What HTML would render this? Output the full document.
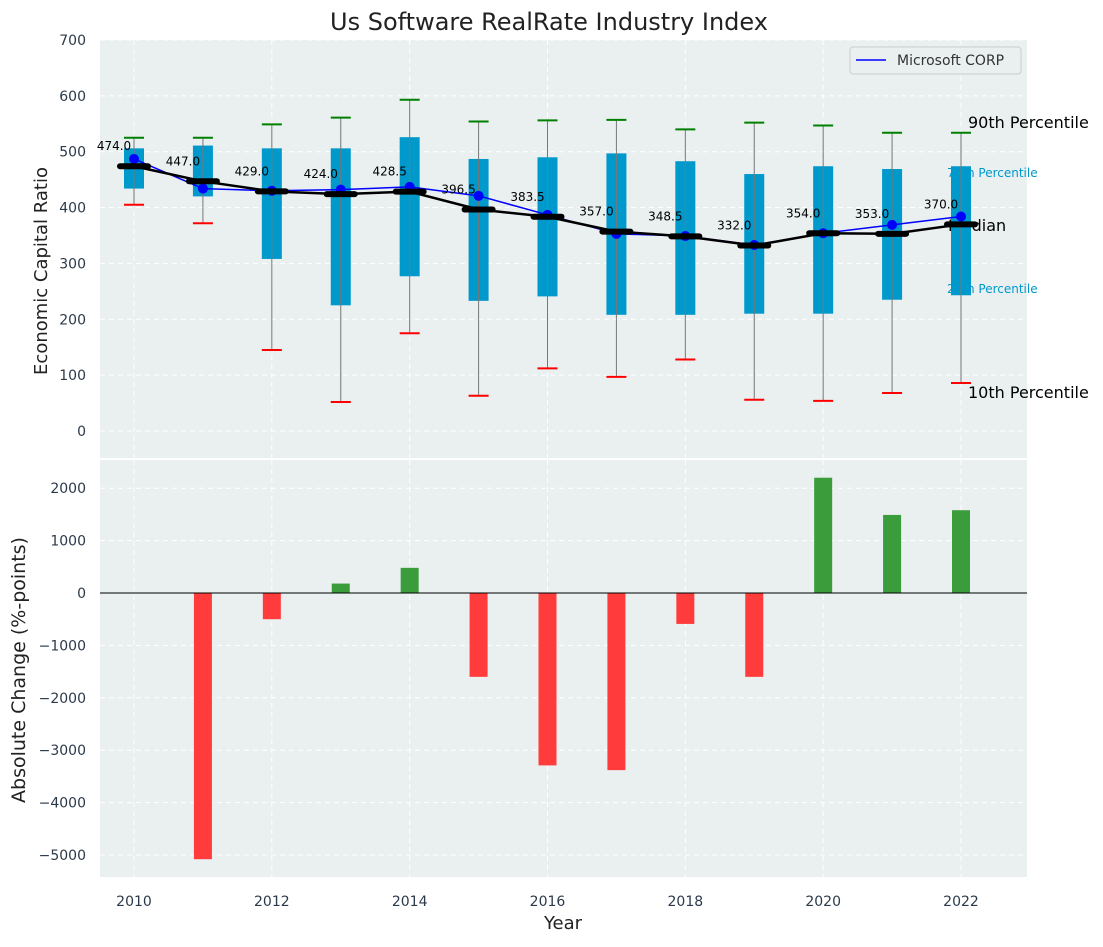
<!DOCTYPE html>
<html><head><meta charset="utf-8"><style>
body{margin:0;background:#fff;font-family:"Liberation Sans","DejaVu Sans",sans-serif}
svg text{font-family:"DejaVu Sans","Liberation Sans",sans-serif}
</style></head><body>
<svg id="c" width="1103" height="942" xmlns="http://www.w3.org/2000/svg"></svg>
<script>
const years=[2010,2011,2012,2013,2014,2015,2016,2017,2018,2019,2020,2021,2022];
const p90=[525,525,549,561,593,554,556,557,540,552,547,534,534];
const p75=[506,511,506,506,526,487,490,497,483,460,474,469,474];
const p25=[434,420,308,225,277,233,241,208,208,210,210,235,243];
const p10=[405,372,145,52,175,63,112,97,128,56,54,68,86];
const medians=[474,447,429,424,428.5,396.5,383.5,357,348.5,332,354,353,370];
const msft=[487,434,430,432,437,421,387,353,349,333,354,369,384];
const changes=[null,-5080,-500,180,480,-1600,-3290,-3380,-590,-1600,2200,1490,1580];
const yTicks1=[0,100,200,300,400,500,600,700];
const yTicks2=[-5000,-4000,-3000,-2000,-1000,0,1000,2000];
const xTicks=[2010,2012,2014,2016,2018,2020,2022];

const svg=document.getElementById('c');const NS='http://www.w3.org/2000/svg';
function el(t,a,txt){const e=document.createElementNS(NS,t);for(const k in a)e.setAttribute(k,a[k]);if(txt!==undefined)e.textContent=txt;svg.appendChild(e);return e;}
const L=100,R=1027;
const x=v=>134+(v-2010)*(961-134)/12;
const y1=v=>431-v*0.5586;
const y2=v=>593-v*0.0524;

let e=el('rect',{x:L,y:40,width:R-L,height:418,fill:'#eaeff0'});

e=el('rect',{x:L,y:460,width:R-L,height:417,fill:'#eaeff0'});


xTicks.forEach(t=>{
 el('line',{x1:x(t),x2:x(t),y1:40,y2:458,stroke:'#fff','stroke-dasharray':'5,4','stroke-width':1});
 el('line',{x1:x(t),x2:x(t),y1:460,y2:877,stroke:'#fff','stroke-dasharray':'5,4','stroke-width':1});
 e=el('text',{x:x(t),y:906,'text-anchor':'middle','font-size':14,fill:'#2b3a4a'},t);
 
});
yTicks1.forEach(t=>{
 el('line',{x1:L,x2:R,y1:y1(t),y2:y1(t),stroke:'#fff','stroke-dasharray':'5,4'});
 e=el('text',{x:86,y:y1(t)+5,'text-anchor':'end','font-size':14,fill:'#2b3a4a'},t);
 
});
yTicks2.forEach(t=>{
 el('line',{x1:L,x2:R,y1:y2(t),y2:y2(t),stroke:'#fff','stroke-dasharray':'5,4'});
 e=el('text',{x:86,y:y2(t)+5,'text-anchor':'end','font-size':14,fill:'#2b3a4a'},t<0?'\u2212'+(-t):t);
 
});

[['90th Percentile',128,16,'#000',968],['75th Percentile',177,12,'#0099cc',947],['Median',231,16,'#000',948],['25th Percentile',293,12,'#0099cc',947],['10th Percentile',398,16,'#000',968]].forEach(a=>{
 e=el('text',{x:a[4],y:a[1],'font-size':a[2],fill:a[3]},a[0]);
 
});

years.forEach((yr,i)=>{
 const cx=x(yr);
 e=el('rect',{x:cx-10,y:y1(p75[i]),width:20,height:y1(p25[i])-y1(p75[i]),fill:'#0099cc'});
 
 el('line',{x1:cx,x2:cx,y1:y1(p90[i]),y2:y1(p10[i]),stroke:'#777','stroke-width':1});
 e=el('line',{x1:cx-10,x2:cx+10,y1:y1(p90[i]),y2:y1(p90[i]),stroke:'green','stroke-width':2});
 
 e=el('line',{x1:cx-10,x2:cx+10,y1:y1(p10[i]),y2:y1(p10[i]),stroke:'red','stroke-width':2});
 
});
e=el('polyline',{points:years.map((yr,i)=>x(yr)+','+y1(msft[i])).join(' '),fill:'none',stroke:'blue','stroke-width':1.5});

years.forEach((yr,i)=>{e=el('circle',{cx:x(yr),cy:y1(msft[i]),r:5,fill:'blue'});
 });
e=el('polyline',{points:years.map((yr,i)=>x(yr)+','+y1(medians[i])).join(' '),fill:'none',stroke:'#000','stroke-width':2.5});

years.forEach((yr,i)=>{
 e=el('line',{x1:x(yr)-14,x2:x(yr)+14,y1:y1(medians[i]),y2:y1(medians[i]),stroke:'#000','stroke-width':6,'stroke-linecap':'round'});
 
 e=el('text',{x:x(yr)-20,y:y1(medians[i])-16,'text-anchor':'middle','font-size':12,fill:'#000'},medians[i].toFixed(1));
 
});

years.forEach((yr,i)=>{
 const v=changes[i];if(v===null)return;
 e=el('rect',{x:x(yr)-9,y:Math.min(y2(v),y2(0)),width:18,height:Math.abs(y2(v)-y2(0)),fill:v>=0?'#3a9c3a':'#ff3b3b'});
 
});
el('line',{x1:L,x2:R,y1:y2(0),y2:y2(0),stroke:'#000','stroke-width':1});

e=el('rect',{x:850,y:47,width:171,height:27,fill:'#eaeff0',stroke:'#ccc',rx:3});

el('line',{x1:856,x2:886,y1:60,y2:60,stroke:'blue','stroke-width':1.5});
e=el('text',{x:897,y:65,'font-size':14,fill:'#333'},'Microsoft CORP');


e=el('text',{x:549,y:30,'text-anchor':'middle','font-size':24,fill:'#222'},'Us Software RealRate Industry Index');

e=el('text',{x:563,y:929,'text-anchor':'middle','font-size':18,fill:'#222'},'Year');

e=el('text',{x:47,y:271,'text-anchor':'middle','font-size':18,fill:'#222',transform:'rotate(-90 47 271)'},'Economic Capital Ratio');

e=el('text',{x:25,y:670,'text-anchor':'middle','font-size':19,fill:'#222',transform:'rotate(-90 25 670)'},'Absolute Change (%-points)');

</script>
</body></html>
